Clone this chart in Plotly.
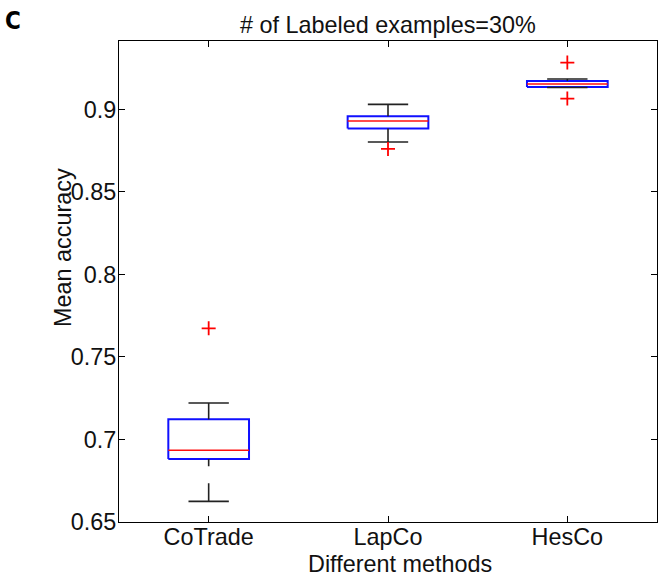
import plotly.graph_objects as go

# ---- data ----
methods = ["CoTrade", "LapCo", "HesCo"]
q1 = [0.6882, 0.8884, 0.9136]
median = [0.6935, 0.8930, 0.9154]
q3 = [0.7122, 0.8959, 0.9173]
lower_whisker = [0.6625, 0.8803, 0.9133]
upper_whisker = [0.7221, 0.9031, 0.9185]
outliers = [[0.7674], [0.8761], [0.9284, 0.9066]]

y_tick_vals = [0.65, 0.70, 0.75, 0.80, 0.85, 0.90]
y_tick_text = ["0.65", "0.7", "0.75", "0.8", "0.85", "0.9"]

title_text = "# of Labeled examples=30%"
xlabel = "Different methods"
ylabel = "Mean accuracy"
panel_label = "C"

# ---- geometry / style ----
W, H = 659, 579
ML, MR, MT, MB = 119, 2, 41, 57
FONT = "Liberation Sans, Arial, Helvetica, sans-serif"
FS = 23.4
box_w = 0.45
cap_w = 0.225

pos = list(range(1, len(methods) + 1))

fig = go.Figure()

# boxes
bx, by = [], []
for i, p in enumerate(pos):
    l, r = p - box_w / 2, p + box_w / 2
    bx += [l, r, r, l, l, None]
    by += [q1[i], q1[i], q3[i], q3[i], q1[i], None]
fig.add_trace(go.Scatter(x=bx, y=by, mode="lines",
                         line=dict(color="#1010ff", width=2), hoverinfo="skip"))

# whiskers (dashed, drawn from whisker end toward box)
wx, wy = [], []
for i, p in enumerate(pos):
    wx += [p, p, None, p, p, None]
    wy += [upper_whisker[i], q3[i], None, lower_whisker[i], q1[i], None]
fig.add_trace(go.Scatter(x=wx, y=wy, mode="lines",
                         line=dict(color="#222222", width=1.6, dash="18px,17px"),
                         hoverinfo="skip"))

# caps
cx, cy = [], []
for i, p in enumerate(pos):
    for v in (upper_whisker[i], lower_whisker[i]):
        cx += [p - cap_w / 2, p + cap_w / 2, None]
        cy += [v, v, None]
fig.add_trace(go.Scatter(x=cx, y=cy, mode="lines",
                         line=dict(color="#222222", width=1.6), hoverinfo="skip"))

# medians
mx, my = [], []
for i, p in enumerate(pos):
    mx += [p - box_w / 2, p + box_w / 2, None]
    my += [median[i], median[i], None]
fig.add_trace(go.Scatter(x=mx, y=my, mode="lines",
                         line=dict(color="#ff1010", width=1.6), hoverinfo="skip"))

# outliers
ox, oy = [], []
for i, p in enumerate(pos):
    for v in outliers[i]:
        ox.append(p)
        oy.append(v)
fig.add_trace(go.Scatter(x=ox, y=oy, mode="markers",
                         marker=dict(symbol="cross-thin", size=10,
                                     line=dict(color="#ff0000", width=1.8)),
                         hoverinfo="skip"))

axis_common = dict(showline=True, linecolor="black", linewidth=1, mirror="ticks",
                   ticks="inside", ticklen=6, tickwidth=1, tickcolor="black",
                   showgrid=False, zeroline=False,
                   tickfont=dict(family=FONT, size=FS, color="#111111"))

fig.update_xaxes(range=[0.5, 3.5], tickmode="array", tickvals=pos, ticktext=methods,
                 ticklabelstandoff=-6, **axis_common)
fig.update_yaxes(range=[0.65, 0.9415], tickmode="array", tickvals=y_tick_vals,
                 ticktext=y_tick_text, ticklabelstandoff=-3, **axis_common)

pw = W - ML - MR
ph = H - MT - MB


def px2paper(xp, yp):
    return (xp - ML) / pw, (H - MB - yp) / ph


annots = []
tx, ty = px2paper(388, 25)
annots.append(dict(text=title_text, x=tx, y=ty, xanchor="center", yanchor="middle"))
tx, ty = px2paper(400, 564)
annots.append(dict(text=xlabel, x=tx, y=ty, xanchor="center", yanchor="middle"))
tx, ty = px2paper(63, 248)
annots.append(dict(text=ylabel, x=tx, y=ty, xanchor="center", yanchor="middle",
                   textangle=-90))
for a in annots:
    a.update(xref="paper", yref="paper", showarrow=False,
             font=dict(family=FONT, size=FS, color="#111111"))
tx, ty = px2paper(13, 21)
annots.append(dict(text="<b>" + panel_label + "</b>", x=tx, y=ty, xref="paper",
                   yref="paper", showarrow=False, xanchor="center", yanchor="middle",
                   font=dict(family="Liberation Sans Narrow, DejaVu Sans Condensed, Arial Narrow, sans-serif",
                             size=24, color="black")))

fig.update_layout(width=W, height=H, margin=dict(l=ML, r=MR, t=MT, b=MB, pad=0),
                  paper_bgcolor="white", plot_bgcolor="white", showlegend=False,
                  annotations=annots)

fig.write_html("out.html")
